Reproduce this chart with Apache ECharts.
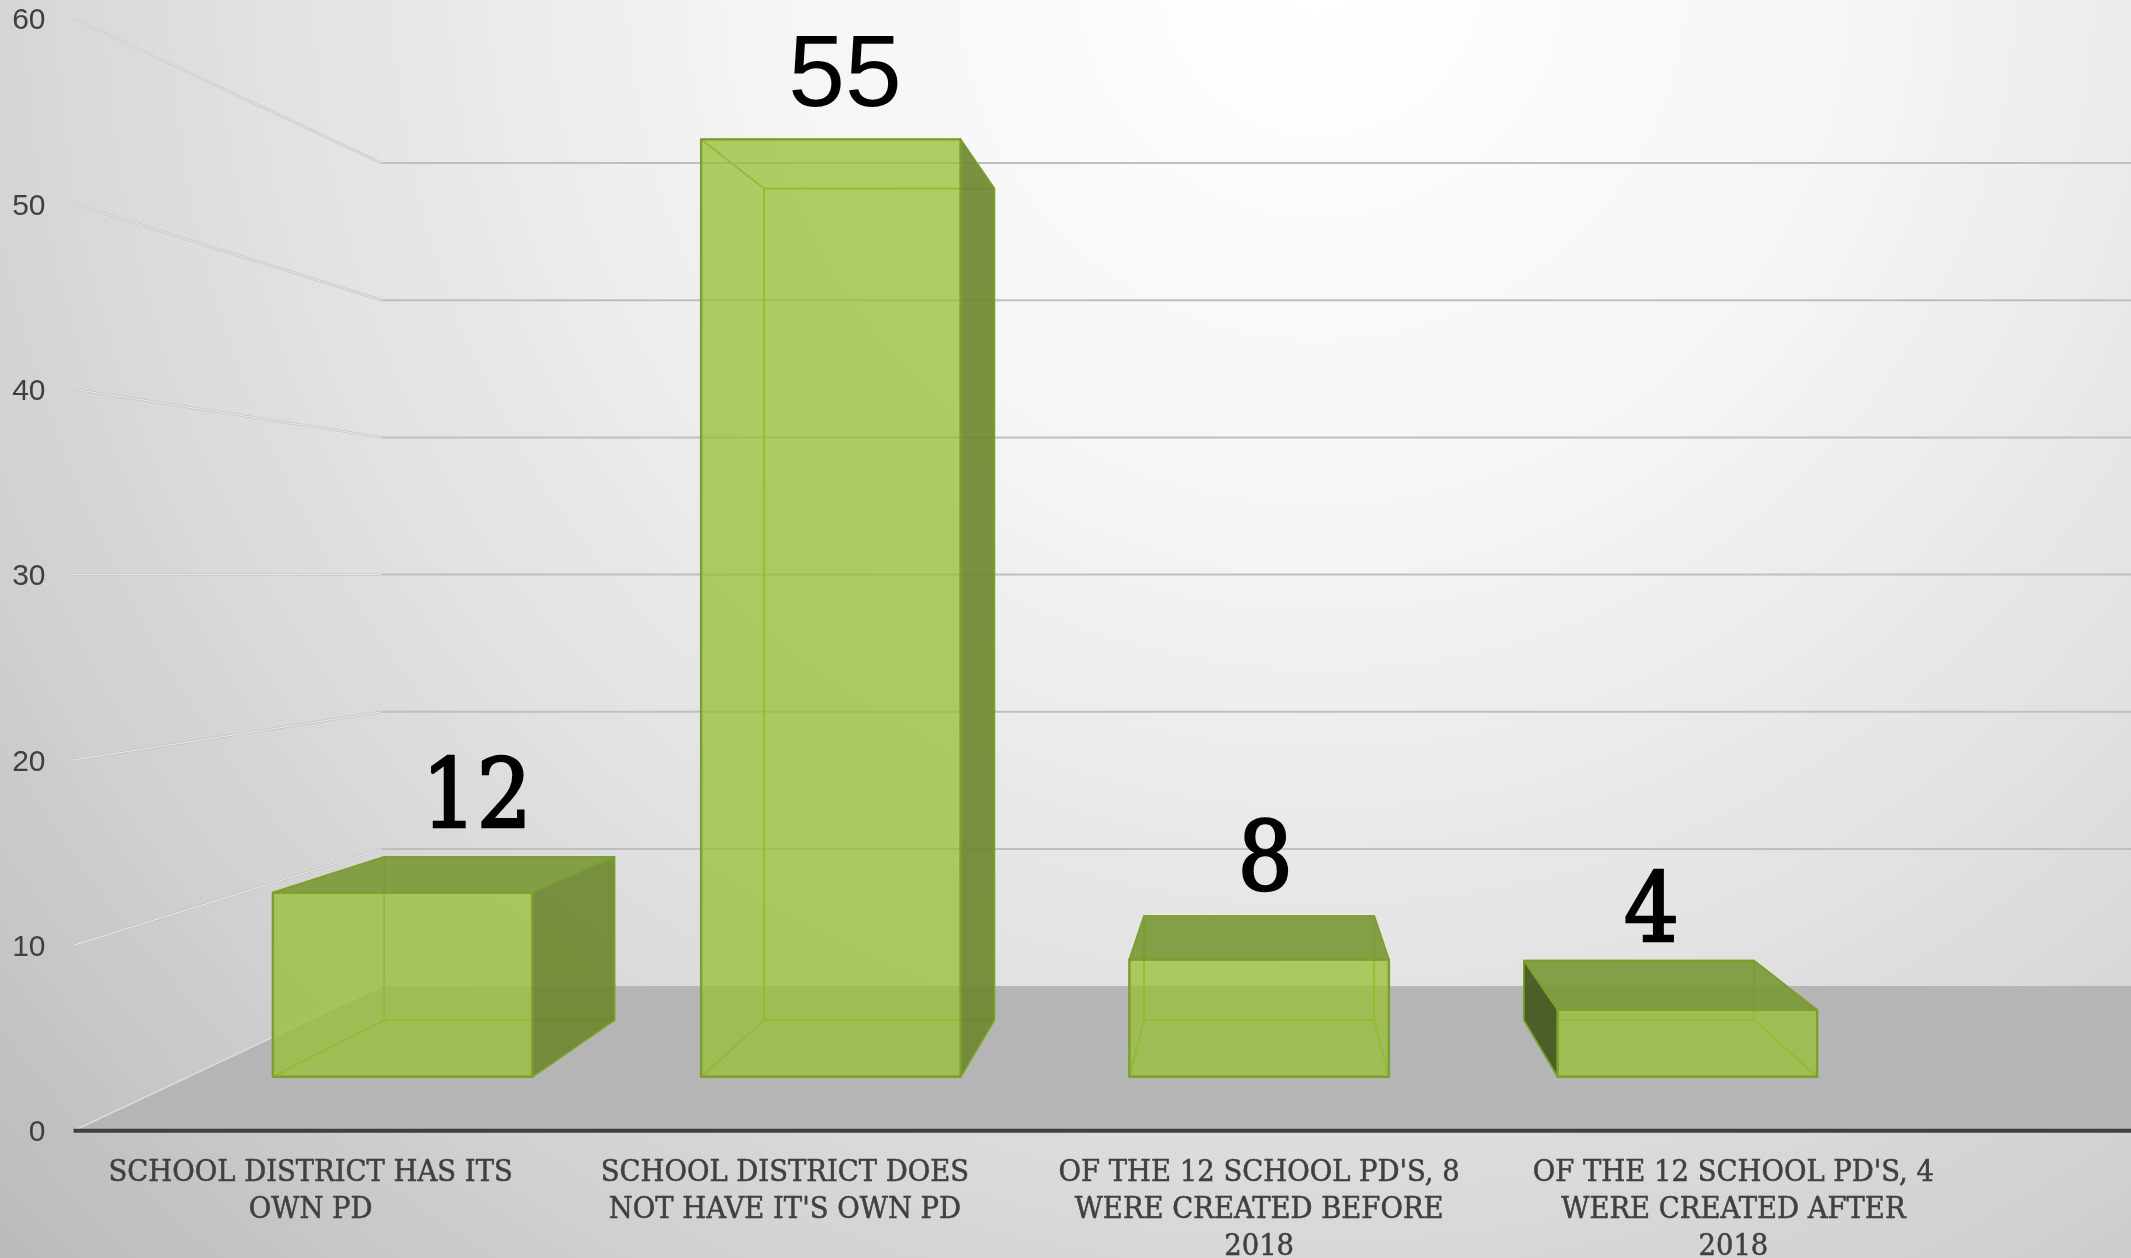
<!DOCTYPE html>
<html>
<head>
<meta charset="utf-8">
<style>html,body{margin:0;padding:0;background:#fff}#c{width:2131px;height:1258px}</style>
<script src="https://cdn.jsdelivr.net/npm/echarts@6/dist/echarts.min.js"></script>
</head>
<body>
<div id="c"></div>
<script>
// Category labels, as printed under the floor
const categories = [
  "SCHOOL DISTRICT HAS ITS\nOWN PD",
  "SCHOOL DISTRICT DOES\nNOT HAVE IT'S OWN PD",
  "OF THE 12 SCHOOL PD'S, 8\nWERE CREATED BEFORE\n2018",
  "OF THE 12 SCHOOL PD'S, 4\nWERE CREATED AFTER\n2018"
];
// Bar heights as they read against the axis in the picture
const barHeights = [11, 56, 7, 4];
// The numbers printed above the bars
const printedLabels = ["12", "55", "8", "4"];
const yTicks = [0, 10, 20, 30, 40, 50, 60];

// Presentation constants
const SERIF = '"DejaVu Serif Condensed","DejaVu Serif",serif';
const SANS = '"Liberation Sans",Arial,sans-serif';
const WALL_DEPTH = 0.74, BAR_FRONT = 0.903, BAR_BACK = 0.801, BAR_FRACTION = 0.606;
const LABEL_STYLE = [
  {dx: 74, dy: -91, font: SERIF, size: 96, heavy: 2.5},
  {dx: 14, dy: -62, font: SANS, size: 102, heavy: 0},
  {dx: 6, dy: -95, font: SERIF, size: 96, heavy: 2.5},
  {dx: -36, dy: -94, font: SERIF, size: 96, heavy: 2.5}
];

// Vanishing point: middle of the third category at the value 30
function vanish(api) { return api.coord([2, 30]); }
function project(p, s, vp) { return [vp[0] + s * (p[0] - vp[0]), vp[1] + s * (p[1] - vp[1])]; }

function renderFloor(params, api) {
  const cs = params.coordSys, vp = vanish(api), w = api.getWidth();
  const base = api.coord([0, 0])[1];
  const a = [cs.x, base], b = project(a, WALL_DEPTH, vp);
  return {type: 'group', children: [
    {type: 'polygon', shape: {points: [a, b, [w, b[1]], [w, base]]},
     style: {fill: '#b5b5b5'}},
    {type: 'line', shape: {x1: a[0], y1: a[1], x2: b[0], y2: b[1]},
     style: {stroke: '#dcdcdc', lineWidth: 1.5}},
    {type: 'line', shape: {x1: cs.x, y1: base, x2: w, y2: base},
     style: {stroke: '#404040', lineWidth: 4}}
  ]};
}

function renderGrid(params, api) {
  const v = api.value(0);
  if (v === 0) return {type: 'group', children: []};
  const cs = params.coordSys, vp = vanish(api), w = api.getWidth();
  const a = [cs.x, api.coord([0, v])[1]], b = project(a, WALL_DEPTH, vp);
  return {type: 'group', children: [
    {type: 'line', shape: {x1: a[0], y1: a[1], x2: b[0], y2: b[1]},
     style: {stroke: '#c2c2c2', lineWidth: 2.4}},
    {type: 'line', shape: {x1: a[0], y1: a[1], x2: b[0], y2: b[1]},
     style: {stroke: '#ececec', lineWidth: 1}},
    {type: 'line', shape: {x1: b[0], y1: b[1], x2: w, y2: b[1]},
     style: {stroke: '#bfbfbf', lineWidth: 2}}
  ]};
}

function renderBar(params, api) {
  const i = api.value(0), v = api.value(1), vp = vanish(api);
  const half = api.size([1, 0])[0] * BAR_FRACTION / 2;
  const c0 = api.coord([i, 0]), c1 = api.coord([i, v]);
  const corner = (sx, top, s) => project([c0[0] + sx * half, top ? c1[1] : c0[1]], s, vp);
  const fbl = corner(-1, 0, BAR_FRONT), fbr = corner(1, 0, BAR_FRONT);
  const ftl = corner(-1, 1, BAR_FRONT), ftr = corner(1, 1, BAR_FRONT);
  const bbl = corner(-1, 0, BAR_BACK), bbr = corner(1, 0, BAR_BACK);
  const btl = corner(-1, 1, BAR_BACK), btr = corner(1, 1, BAR_BACK);

  const inner = {fill: 'rgba(152,192,52,0.46)', stroke: 'rgba(140,180,50,0.85)', lineWidth: 1.6, lineJoin: 'round'};
  const edge = '#7c9f2e';
  const face = (pts, style) => ({type: 'polygon', shape: {points: pts}, style: style});
  const kids = [];

  // hidden faces first, seen through the translucent front
  kids.push(face([btl, btr, bbr, bbl], inner));
  kids.push(face([bbl, bbr, fbr, fbl], inner));
  const rightVisible = fbr[0] < vp[0], leftVisible = fbl[0] > vp[0], topVisible = ftl[1] > vp[1];
  if (!leftVisible) kids.push(face([btl, ftl, fbl, bbl], inner));
  if (!rightVisible) kids.push(face([btr, ftr, fbr, bbr], inner));
  if (!topVisible) kids.push(face([btl, btr, ftr, ftl], inner));

  // visible side and top faces
  if (rightVisible) kids.push(face([ftr, btr, bbr, fbr],
    {fill: 'rgba(104,128,44,0.82)', stroke: edge, lineWidth: 1.6, lineJoin: 'round'}));
  if (leftVisible) kids.push(face([btl, ftl, fbl, bbl],
    {fill: 'rgba(68,87,33,0.92)', stroke: edge, lineWidth: 1.6, lineJoin: 'round'}));
  if (topVisible) kids.push(face([btl, btr, ftr, ftl],
    {fill: 'rgba(120,150,58,0.85)', stroke: edge, lineWidth: 1.6, lineJoin: 'round'}));

  // front face
  kids.push(face([ftl, ftr, fbr, fbl],
    {fill: 'rgba(152,192,52,0.55)', stroke: edge, lineWidth: 2.4, lineJoin: 'round'}));

  // printed number
  const ls = LABEL_STYLE[i];
  kids.push({type: 'text', z2: 10, style: {
    text: printedLabels[i],
    x: (ftl[0] + ftr[0]) / 2 + ls.dx, y: ftl[1] + ls.dy,
    align: 'center', verticalAlign: 'middle',
    fontFamily: ls.font, fontSize: ls.size, fill: '#000',
    stroke: ls.heavy ? '#000' : null, lineWidth: ls.heavy
  }});
  return {type: 'group', children: kids};
}

const chart = echarts.init(document.getElementById('c'), null, {width: 2131, height: 1258, renderer: 'canvas'});
chart.setOption({
  animation: false,
  backgroundColor: {
    type: 'radial', x: 0.62, y: -0.02, r: 1.45,
    colorStops: [
      {offset: 0, color: '#ffffff'},
      {offset: 0.3, color: '#f5f5f5'},
      {offset: 0.6, color: '#e0e0e0'},
      {offset: 0.8, color: '#cfcfcf'},
      {offset: 1, color: '#bbbbbb'}
    ]
  },
  grid: {left: 73.5, width: 1897, top: 18.5, height: 1112.2, outerBoundsMode: 'none'},
  xAxis: {
    type: 'category', data: categories, boundaryGap: true,
    axisLine: {show: false},
    axisTick: {show: false}, splitLine: {show: false},
    axisLabel: {interval: 0, margin: 24, color: '#404040', fontFamily: SERIF, fontSize: 30.5, lineHeight: 37, hideOverlap: false,
                textBorderColor: '#404040', textBorderWidth: 0.5}
  },
  yAxis: {
    type: 'value', min: 0, max: 60, interval: 10,
    axisLine: {show: false}, axisTick: {show: false}, splitLine: {show: false},
    axisLabel: {margin: 28, color: '#404040', fontFamily: SANS, fontSize: 30,
                formatter: '{t|{value}}',
                rich: {t: {color: '#404040', fontFamily: SANS, fontSize: 30, padding: [5, 0, 0, 0]}}}
  },
  series: [
    {type: 'custom', name: 'floor', coordinateSystem: 'cartesian2d', silent: true, z: 1,
     data: [[0]], renderItem: renderFloor, encode: {x: 0}},
    {type: 'custom', name: 'gridlines', coordinateSystem: 'cartesian2d', silent: true, z: 2,
     data: yTicks.map(v => [v]), renderItem: renderGrid, encode: {y: 0}},
    {type: 'custom', name: 'bars', coordinateSystem: 'cartesian2d', silent: true, z: 3,
     data: barHeights.map((v, i) => [i, v]), renderItem: renderBar, encode: {x: 0, y: 1}}
  ]
});
</script>
</body>
</html>
